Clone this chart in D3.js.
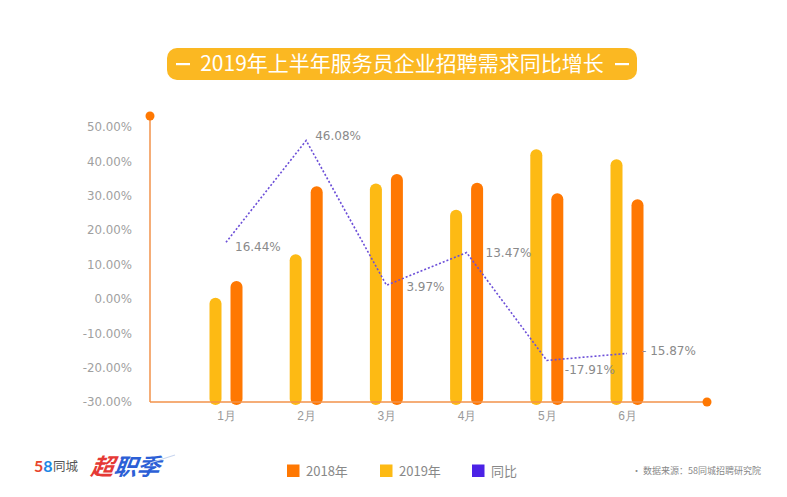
<!DOCTYPE html>
<html><head><meta charset="utf-8">
<script src="https://cdn.jsdelivr.net/npm/d3@7"></script>
<style>
html,body{margin:0;padding:0;background:#fff;}
svg{display:block;font-family:"Noto Sans CJK SC","Noto Sans",sans-serif;}
</style></head>
<body><svg id="c" width="787" height="497"></svg>
<script>
const months = ["1月","2月","3月","4月","5月","6月"];
const values2019 = [0.3, 13.0, 33.6, 25.9, 43.5, 40.6];
const values2018 = [5.2, 32.8, 36.3, 33.8, 30.7, 29.0];
const yoy = [16.44, 46.08, 3.97, 13.47, -17.91, -15.87];
const yoyLabels = ["16.44%","46.08%","3.97%","13.47%","-17.91%","- 15.87%"];
const yTicks = [-30,-20,-10,0,10,20,30,40,50];
const legendItems = ["2018年","2019年","同比"];
const titleText = "2019年上半年服务员企业招聘需求同比增长";
const sourceText = "• 数据来源：58同城招聘研究院";

const C = {yellow:"#FDBA14", orange:"#FF7802", purple:"#4B22E6", line:"#6C4FD8", axis:"#F2924A", title:"#FBB822", grey:"#8a8a8a"};

const svg = d3.select("#c");
const y = d3.scaleLinear().domain([-30,50]).range([402,127]);
const x = d3.scalePoint().domain(months).range([226,627]);
const barW = 12, off = 10.5;
const numFont = "'DejaVu Sans',sans-serif";

// title
svg.append("rect").attr("x",167).attr("y",48).attr("width",470).attr("height",32).attr("rx",10).attr("fill",C.title);
svg.append("text").attr("x",402).attr("y",71).attr("text-anchor","middle").attr("fill","#fff")
  .attr("font-size",21).text(titleText);
[[176,190],[615,629]].forEach(([a,b])=>svg.append("rect").attr("x",a).attr("y",63).attr("width",b-a).attr("height",2.2).attr("fill","#fff"));

// y axis labels
const yAxis = d3.axisLeft(y).tickValues(yTicks).tickSize(0).tickPadding(18).tickFormat(d=>d.toFixed(2)+"%");
const ga = svg.append("g").attr("transform","translate(150,0)").call(yAxis);
ga.select(".domain").remove();
ga.selectAll("text").attr("fill","#a0a0a0").attr("font-size",11.8).attr("font-family",numFont);

// x axis labels
const xAxis = d3.axisBottom(x).tickSize(0).tickPadding(9);
const gx = svg.append("g").attr("transform","translate(0,402)").call(xAxis);
gx.select(".domain").remove();
gx.selectAll("text").attr("fill","#999").attr("font-size",12);

// bars
const bottom = y(-30)+3;
svg.append("g").selectAll("rect").data(values2019).join("rect")
  .attr("x",(d,i)=>x(months[i])-off-barW/2).attr("y",d=>y(d)).attr("width",barW)
  .attr("height",d=>bottom-y(d)).attr("rx",barW/2).attr("fill",C.yellow);
svg.append("g").selectAll("rect").data(values2018).join("rect")
  .attr("x",(d,i)=>x(months[i])+off-barW/2).attr("y",d=>y(d)).attr("width",barW)
  .attr("height",d=>bottom-y(d)).attr("rx",barW/2).attr("fill",C.orange);

// axis lines
svg.append("line").attr("x1",150).attr("x2",150).attr("y1",116).attr("y2",402).attr("stroke",C.axis).attr("stroke-width",1.5);
svg.append("line").attr("x1",150).attr("x2",707).attr("y1",402).attr("y2",402).attr("stroke",C.axis).attr("stroke-width",1.5);
svg.append("circle").attr("cx",150).attr("cy",116).attr("r",4.5).attr("fill",C.orange);
svg.append("circle").attr("cx",707).attr("cy",402).attr("r",4.5).attr("fill",C.orange);

// line
const line = d3.line().x((d,i)=>x(months[i])).y(d=>y(d));
svg.append("path").datum(yoy).attr("d",line).attr("fill","none").attr("stroke",C.line)
  .attr("stroke-width",1.6).attr("stroke-dasharray","2,2");
const lblOff = [[9,4],[9,-5],[20,2],[19,0],[18,9],[15,-3]];
svg.append("g").selectAll("text").data(yoy).join("text")
  .attr("x",(d,i)=>x(months[i])+lblOff[i][0]).attr("y",(d,i)=>y(d)+lblOff[i][1]).attr("dy","0.35em")
  .attr("fill",C.grey).attr("font-size",12).attr("font-family",numFont)
  .text((d,i)=>yoyLabels[i]);

// legend
const legX = [287,380,472], legCol=[C.orange,C.yellow,C.purple];
legendItems.forEach((t,i)=>{
  svg.append("rect").attr("x",legX[i]).attr("y",464.5).attr("width",12.5).attr("height",12.5).attr("fill",legCol[i]);
  svg.append("text").attr("x",legX[i]+19).attr("y",471).attr("dy","0.35em").attr("fill","#888").attr("font-size",13).text(t);
});
svg.append("text").attr("x",632).attr("y",471).attr("dy","0.35em").attr("fill","#888").attr("font-size",9).text(sourceText);

// logo
const lg = svg.append("g");
lg.append("text").attr("x",34).attr("y",472).attr("font-size",16).attr("font-weight","bold").attr("font-family","Lato,sans-serif")
  .html('<tspan fill="#E8452C">5</tspan><tspan fill="#1E88E5">8</tspan>');
lg.append("text").attr("x",53).attr("y",471).attr("font-size",12.5).attr("fill","#555").text("同城");
lg.append("text").attr("x",90).attr("y",475).attr("font-size",23).attr("font-weight","bold").attr("font-style","italic")
  .attr("transform","skewX(-8)").attr("transform-origin","90 475")
  .html('<tspan fill="#E53935">超</tspan><tspan fill="#2C5FD6">职季</tspan>');
lg.append("line").attr("x1",150).attr("x2",175).attr("y1",463).attr("y2",455).attr("stroke","#c9d6ef").attr("stroke-width",1.2);
</script></body></html>
